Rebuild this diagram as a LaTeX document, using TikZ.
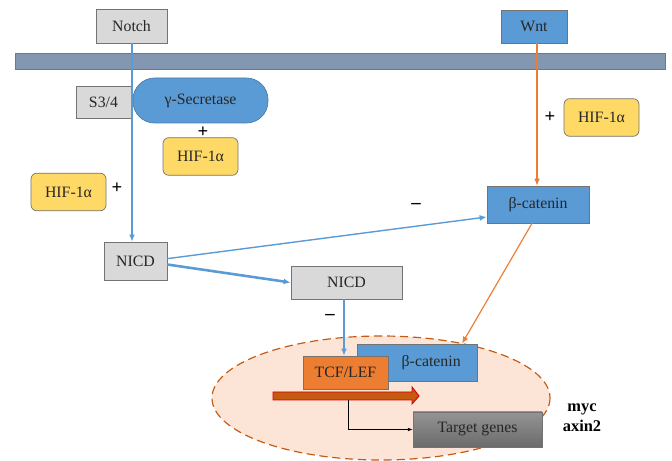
\documentclass[tikz,border=0pt]{standalone}
\usepackage{fontspec}
\setmainfont{Liberation Serif}
\usetikzlibrary{arrows.meta,positioning}

\definecolor{wntblue}{HTML}{5B9BD5}
\definecolor{boxgray}{HTML}{D9D9D9}
\definecolor{hifyellow}{HTML}{FFD966}
\definecolor{tcforange}{HTML}{ED7D31}
\definecolor{membrane}{HTML}{8497B0}
\definecolor{nucfill}{HTML}{FCE4D6}
\definecolor{nucline}{HTML}{C55A11}

\begin{document}
\begin{tikzpicture}[
     x=0.03cm, y=-0.03cm,
     % define styles
     box/.style={
         draw=black!55,
         line width=0.6pt,
         inner sep=0pt,
         text=black!85,
         font=\fontsize{13.5}{15}\selectfont
     },
     graybox/.style={ box, fill=boxgray },
     bluebox/.style={ box, fill=wntblue },
     hif/.style={
         box,
         fill=hifyellow,
         rounded corners=5pt,
         minimum width=2.25cm,
         minimum height=1.13cm
     },
     sign/.style={ font=\bfseries\fontsize{16}{16}\selectfont },
     blueline/.style={ draw=wntblue, line width=1.4pt },
     orangeline/.style={ draw=tcforange, line width=1pt },
     >={Latex[length=6pt,width=5pt]}
]
\useasboundingbox (0,0) rectangle (672,461);

% nucleus
\draw[nucline, fill=nucfill, dashed, dash pattern=on 7pt off 4pt, line width=1pt]
    (381,398) ellipse [x radius=169, y radius=62];

% membrane
\draw[membrane!80!black, fill=membrane, line width=0.4pt] (15,53) rectangle (665,69);

% receptors
\node[graybox, minimum width=2.13cm, minimum height=1.02cm] (notch) at (131.5,26) {Notch};
\node[bluebox, minimum width=1.98cm, minimum height=0.99cm] (wnt) at (534,26.5) {Wnt};

% cleavage
\node[graybox, minimum width=1.65cm, minimum height=0.96cm] (s34) at (103.5,102) {S3/4};
\node[box, fill=wntblue, draw=wntblue!80!black, rounded corners=0.65cm,
      minimum width=4.05cm, minimum height=1.35cm] (gsec) at (200.5,100.5) {γ-Secretase};

% HIF-1alpha boxes
\node[hif] (hifgs) at (200.5,156.5) {HIF-1α};
\node[hif] (hifleft) at (68.5,192) {HIF-1α};
\node[hif] (hifwnt) at (601.5,117.5) {HIF-1α};

% cytoplasm
\node[bluebox, minimum width=3.06cm, minimum height=1.11cm] (bcat) at (538,204.5) {β-catenin};
\node[graybox, minimum width=1.89cm, minimum height=1.14cm] (nicd) at (135.5,261) {NICD};
\node[graybox, minimum width=3.33cm, minimum height=0.99cm] (nicdn) at (346.5,282.5) {NICD};

% nucleus content
\node[bluebox, minimum width=3.6cm, minimum height=1.11cm] (bcatn) at (417,362.5) {\hspace*{0.85cm}β-catenin};
\node[box, fill=tcforange, minimum width=2.55cm, minimum height=0.99cm] (tcf) at (345.5,372.5) {TCF/LEF};
\node[box, fill=black!50, top color=black!42, bottom color=black!58,
      minimum width=3.87cm, minimum height=1.05cm] (target) at (477.5,429.5) {Target genes};
\node[font=\bfseries\fontsize{14}{17}\selectfont, align=center] (genes) at (582,418) {myc\\axin2};

% signs
\node[sign] (p1) at (203,132) {+};
\node[sign] (p2) at (117,188) {+};
\node[sign] (p3) at (550,117) {+};
\node[sign] (m1) at (416,206) {--};
\node[sign] (m2) at (330,317) {--};

% connectors
\draw[blueline, ->] (notch.south -| 132,0) -- (nicd.north -| 132,0);
\draw[orangeline, ->] (wnt.south -| 537,0) -- (bcat.north -| 537,0);
\draw[draw=wntblue, line width=1.2pt, ->] ([yshift=2pt]nicd.east) -- (bcat.west |- 0,217);
\draw[draw=wntblue, line width=2.2pt, ->] ([yshift=-3pt]nicd.east) -- (nicdn.west);
\draw[blueline, ->] (nicdn.south -| 344,0) -- (tcf.north -| 344,0);
\draw[orangeline, ->] (bcat.south -| 532,0) -- (bcatn.north -| 462,0);

% transcription
\draw[draw=red!85!black, fill=nucline, line width=0.8pt]
    (273,392) -- (412,392) -- (412,387) -- (419,396) -- (412,404) -- (412,400) -- (273,400) -- cycle;
\coordinate (tss) at (348,400);
\draw[line width=0.6pt, -{Latex[length=4pt,width=3pt]}] (tss) |- (target.west);
\end{tikzpicture}
\end{document}
